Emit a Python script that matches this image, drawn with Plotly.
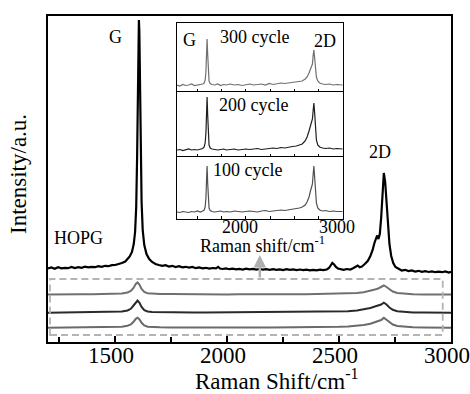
import plotly.graph_objects as go

# ---------------- data ----------------
hopg_x = [1200, 1215, 1230, 1245, 1260, 1275, 1290, 1305, 1320, 1335, 1350, 1365, 1380, 1395, 1410, 1425,
          1440, 1455, 1470, 1485, 1500, 1515, 1530, 1545, 1555, 1565, 1575, 1583, 1589, 1594, 1598, 1601,
          1604, 1606, 1608, 1611, 1614, 1618, 1623, 1630, 1640, 1652, 1665, 1680, 1695, 1710, 1725, 1740,
          1755, 1770, 1785, 1800, 1815, 1830, 1845, 1860, 1875, 1890, 1905, 1920, 1935, 1950, 1960, 1968,
          1980, 1995, 2010, 2025, 2040, 2055, 2070, 2085, 2100, 2115, 2130, 2145, 2160, 2175, 2190, 2205,
          2220, 2235, 2250, 2265, 2280, 2295, 2310, 2325, 2340, 2355, 2370, 2385, 2400, 2415, 2430, 2445,
          2455, 2462, 2470, 2478, 2486, 2495, 2505, 2520, 2535, 2550, 2565, 2575, 2583, 2592, 2602, 2615,
          2628, 2640, 2650, 2658, 2664, 2670, 2676, 2682, 2688, 2694, 2700, 2706, 2712, 2718, 2725, 2733,
          2742, 2752, 2765, 2780, 2795, 2810, 2825, 2840, 2855, 2870, 2885, 2900, 2915, 2930, 2945, 2960,
          2975, 2990, 3000]
hopg_y = [73.5, 74.5, 73.2, 74.8, 73.6, 74.2, 73.8, 75, 74, 74.8, 74.2, 75.4, 74.6, 75.2, 74.8, 75.8,
          75.2, 76.2, 75.8, 76.8, 77, 77.8, 79, 80.5, 82.5, 85.5, 90, 98, 110, 135, 185, 250,
          305, 322, 310, 255, 190, 140, 112, 97, 88, 83, 80, 78, 77, 76.2, 76.8, 75.5,
          76.2, 75, 75.8, 74.6, 75.2, 74.4, 75, 73.8, 74.5, 73.6, 74.2, 73.4, 74, 73.6, 75.2, 73.5,
          73, 73.6, 72.8, 73.4, 72.6, 73.2, 72.5, 73.3, 72.6, 73.1, 72.4, 73, 72.3, 72.9, 72.2, 72.8,
          72.1, 72.7, 72, 72.8, 72.1, 72.6, 71.9, 72.5, 71.8, 72.4, 71.7, 72.2, 71.6, 72.3, 71.8, 72.5,
          74, 77, 79, 77.5, 75, 73.5, 72.8, 72.2, 73, 72.5, 74, 75.5, 76.5, 74.8, 75.5, 78,
          81, 86, 92, 99, 104, 106.5, 103, 108, 124, 150, 169, 160, 138, 116, 98, 86,
          79, 75, 73, 71.5, 72.2, 71, 71.6, 70.5, 71.2, 70.2, 70.8, 70, 70.6, 69.8, 70.4, 69.8,
          70.6, 69.5, 70.2]

low_x = [1200, 1250, 1300, 1350, 1400, 1450, 1500, 1530, 1555, 1570, 1582, 1592, 1600, 1608, 1618, 1630,
         1645, 1665, 1700, 1750, 1800, 1850, 1900, 1950, 2000, 2050, 2100, 2150, 2200, 2250, 2300, 2350,
         2400, 2450, 2500, 2540, 2580, 2610, 2640, 2660, 2675, 2688, 2700, 2712, 2725, 2740, 2760, 2790,
         2830, 2880, 2930, 3000]
low_300 = [47.5, 47.8, 47.5, 47.7, 47.8, 48, 48.2, 48.5, 49.5, 51, 54, 58, 59.5, 57.5, 53, 50,
           48.8, 48.3, 48, 48, 47.8, 47.8, 47.7, 47.8, 47.6, 47.7, 47.6, 47.6, 47.7, 47.6, 47.7, 47.8,
           47.9, 48, 48.2, 48.5, 49, 49.8, 51, 52.5, 53.5, 55, 56.5, 55, 52.5, 50.5, 49, 48.2,
           47.8, 47.6, 47.5, 47.4]
low_200 = [29.3, 29.5, 29.3, 29.5, 29.6, 29.8, 30, 30.4, 31.5, 33.2, 36.5, 40, 41.5, 39.5, 35, 31.8,
           30.5, 30, 29.8, 29.7, 29.6, 29.6, 29.5, 29.6, 29.4, 29.5, 29.5, 29.4, 29.5, 29.5, 29.6, 29.7,
           29.8, 30, 30.3, 30.7, 31.5, 32.5, 34, 35.5, 36.5, 37.5, 39.3, 37.5, 34.5, 32.2, 30.8, 30,
           29.6, 29.4, 29.3, 29.2]
low_100 = [14.3, 14.5, 14.3, 14.5, 14.6, 14.7, 15, 15.3, 16.2, 17.5, 20.2, 23.2, 24.3, 22.8, 19.2, 16.5,
           15.3, 14.9, 14.7, 14.6, 14.5, 14.6, 14.5, 14.6, 14.4, 14.5, 14.5, 14.4, 14.5, 14.5, 14.6, 14.6,
           14.8, 14.9, 15.2, 15.6, 16.2, 17, 18.2, 19.5, 20.5, 22, 24.3, 22.3, 19.6, 17.5, 16, 15.2,
           14.7, 14.5, 14.4, 14.3]

inset_x = [1290, 1320, 1350, 1380, 1410, 1440, 1470, 1500, 1530, 1555, 1570, 1580, 1588, 1594, 1600, 1606,
           1612, 1620, 1632, 1650, 1680, 1710, 1740, 1770, 1800, 1840, 1880, 1920, 1960, 2000, 2040, 2080,
           2120, 2160, 2200, 2240, 2280, 2320, 2360, 2400, 2440, 2480, 2520, 2550, 2580, 2610, 2630, 2650,
           2665, 2675, 2685, 2692, 2700, 2708, 2716, 2726, 2740, 2760, 2790, 2820, 2860, 2900, 2940, 2995]
inset_300 = [7, 6, 7.5, 6.5, 7, 8, 6.5, 7, 7.5, 8, 9, 12, 20, 36, 53, 38,
             20, 11, 8.5, 7.5, 7, 8, 6.5, 7.5, 7, 8, 7, 7.5, 6.5, 7, 8, 7,
             7.5, 8, 7, 8.5, 7.5, 8, 9, 8.5, 9, 9.5, 10, 10.5, 11, 13, 15, 19,
             23, 24, 28, 36, 42, 34, 22, 15, 11, 9, 8, 7.5, 8, 7, 7.5, 7]
inset_200 = [7, 7.5, 6.5, 7, 8, 7, 7.5, 7, 8, 8.5, 10, 14, 24, 44, 60, 42,
             22, 12, 9, 8, 7.5, 7, 7.5, 8, 7, 7.5, 8, 7, 7.5, 8, 7.5, 8,
             8.5, 7.5, 8, 8.5, 9, 8.5, 9.5, 9, 10, 10.5, 11, 12, 13, 16, 20, 26,
             32, 35, 38, 46, 54, 44, 28, 17, 12, 10, 9, 8.5, 9, 8, 8.5, 8]
inset_100 = [7, 6.5, 7.5, 7, 6.5, 7.5, 7, 8, 7, 8, 9, 12, 21, 38, 53, 36,
             19, 11, 8.5, 7.5, 7, 7.5, 8, 7, 7.5, 7, 8, 7.5, 7, 7.5, 8, 7.5,
             7, 8, 8.5, 7.5, 8, 8.5, 9, 8.5, 9, 9.5, 10, 11, 12, 14, 17, 22,
             28, 31, 35, 44, 53, 42, 26, 16, 11, 9, 8, 8.5, 7.5, 8, 7.5, 7.5]

main_ticks = [1500, 2000, 2500, 3000]
inset_ticks = [1500, 1750, 2000, 2250, 2500, 2750, 3000]
inset_labeled_ticks = [2000, 3000]
cycle_labels = ["300 cycle", "200 cycle", "100 cycle"]

# ---------------- layout helpers ----------------
W, H = 470, 394
L, R, T, B = 48, 451, 16, 342


def px(x):
    return (x - L) / (R - L)


def py(y):
    return (B - y) / (B - T)


FONT = "Liberation Serif, Times New Roman, serif"

fig = go.Figure()

# main traces
fig.add_trace(go.Scatter(x=hopg_x, y=hopg_y, mode="lines", line=dict(color="#000000", width=2.2),
                         xaxis="x", yaxis="y"))
for ys, col in [(low_300, "#707070"), (low_200, "#2a2a2a"), (low_100, "#6a6a6a")]:
    fig.add_trace(go.Scatter(x=low_x, y=ys, mode="lines", line=dict(color=col, width=2),
                             xaxis="x", yaxis="y"))

# inset traces
inset_cols = ["#707070", "#1e1e1e", "#505050"]
for i, (ys, col) in enumerate(zip([inset_300, inset_200, inset_100], inset_cols)):
    n = i + 2
    fig.add_trace(go.Scatter(x=inset_x, y=ys, mode="lines", line=dict(color=col, width=1.2),
                             xaxis=f"x{n}", yaxis=f"y{n}"))

# inset panel pixel extents
panels = [(23, 92), (92, 157), (157, 219)]
ix0, ix1 = px(177), px(343)

layout = dict(
    width=W, height=H,
    margin=dict(l=L, r=W - R, t=T, b=H - B, autoexpand=False),
    paper_bgcolor="white", plot_bgcolor="white",
    showlegend=False,
    font=dict(family=FONT, color="black"),
    xaxis=dict(range=[1200, 3000], domain=[0, 1], anchor="y", automargin=False,
               tickvals=main_ticks, ticks="inside", ticklen=6, tickwidth=1.5, tickcolor="black",
               minor=dict(ticks="inside", ticklen=5, tickwidth=1.5, tickcolor="black", tick0=1000, dtick=250),
               showline=True, linewidth=2, linecolor="black", mirror=True,
               showgrid=False, zeroline=False, showticklabels=False),
    yaxis=dict(range=[0, 326], domain=[0, 1], anchor="x", automargin=False,
               showticklabels=False, ticks="", showline=True, linewidth=2, linecolor="black",
               mirror=True, showgrid=False, zeroline=False),
)
for i, (top, bot) in enumerate(panels):
    n = i + 2
    layout[f"xaxis{n}"] = dict(
        range=[1290, 3000], domain=[ix0, ix1], anchor=f"y{n}", automargin=False,
        tickvals=inset_ticks, ticks="inside", ticklen=3, tickwidth=1,
        tickcolor="black", showticklabels=False,
        showline=True, linewidth=1, linecolor="black", mirror=True,
        showgrid=False, zeroline=False)
    layout[f"yaxis{n}"] = dict(
        range=[0, bot - top], domain=[py(bot), py(top)], anchor=f"x{n}", automargin=False,
        showticklabels=False, ticks="", showline=True, linewidth=1, linecolor="black",
        mirror=True, showgrid=False, zeroline=False)

fig.update_layout(**layout)

shapes = [
    # inset background
    dict(type="rect", xref="paper", yref="paper", x0=ix0, x1=ix1, y0=py(219), y1=py(23),
         fillcolor="#f3f3f3", line=dict(width=0), layer="below"),
    # dashed box around the lower traces
    dict(type="rect", xref="x", yref="y", x0=1209, x1=2963, y0=7, y1=63,
         line=dict(color="#b4b4b4", width=1.8, dash="7px,4px"), fillcolor="rgba(0,0,0,0)"),
]
fig.update_layout(shapes=shapes)

ann = []


def text(x, y, s, size, bg=None):
    d = dict(xref="paper", yref="paper", x=px(x), y=py(y), text=s, showarrow=False,
             font=dict(size=size, family=FONT, color="black"), xanchor="center", yanchor="middle")
    if bg:
        d["bgcolor"] = bg
        d["borderpad"] = 1
    ann.append(d)


# main tick labels (placed at the axis' data positions)
for v in main_ticks:
    ann.append(dict(xref="x", yref="paper", x=v, y=py(355), text=str(v), showarrow=False,
                    xshift=-4, font=dict(size=23, family=FONT, color="black"),
                    xanchor="center", yanchor="middle"))
# inset tick labels
for v in inset_labeled_ticks:
    ann.append(dict(xref="x4", yref="paper", x=v, y=py(227), text=str(v), showarrow=False,
                    xshift=-6, font=dict(size=18, family=FONT, color="black"),
                    xanchor="center", yanchor="middle"))

# main labels
text(115, 37, "G", 18)
text(380, 152, "2D", 18)
text(78, 238, "HOPG", 18)
# inset labels
text(189, 40, "G", 18)
text(325, 41, "2D", 18)
for lab, (xx, yy) in zip(cycle_labels, [(255, 37), (253, 105), (247, 170)]):
    text(xx, yy, lab, 18, bg="white")
text(262, 245, "Raman shift/cm<sup>-1</sup>", 18)
# axis titles
text(277, 379, "Raman Shift/cm<sup>-1</sup>", 23)
ann.append(dict(xref="paper", yref="paper", x=px(18), y=py(174), text="Intensity/a.u.",
                textangle=-90, showarrow=False, font=dict(size=23, family=FONT, color="black"),
                xanchor="center", yanchor="middle"))
# arrow
ann.append(dict(xref="x", yref="y", axref="x", ayref="y", x=2146, y=87, ax=2146, ay=63,
                text="", showarrow=True, arrowhead=2, arrowsize=1, arrowwidth=2.5,
                arrowcolor="#b0b0b0"))
fig.update_layout(annotations=ann)

fig.write_html("out.html")
